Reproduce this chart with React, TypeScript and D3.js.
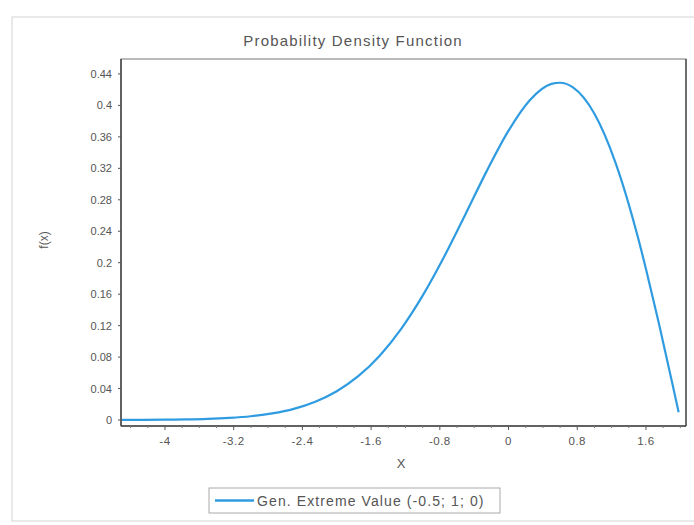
import React from "react";
import * as d3 from "d3";

const chartTitle = "Probability Density Function";
const xAxisTitle = "X";
const yAxisTitle = "f(x)";
const seriesName = "Gen. Extreme Value  (-0.5; 1; 0)";

const xValues = [-4.5, -4.25, -4, -3.75, -3.5, -3.25, -3, -2.75, -2.5, -2.25, -2, -1.75, -1.5, -1.25, -1, -0.75, -0.5, -0.25, 0, 0.25, 0.5, 0.6, 0.75, 1, 1.25, 1.5, 1.6, 1.75, 1.9, 1.98];
const densityValues = [0.0001, 0.0002, 0.0004, 0.0007, 0.0014, 0.0027, 0.0048, 0.0084, 0.0142, 0.0233, 0.0366, 0.0557, 0.0818, 0.1159, 0.1581, 0.2076, 0.262, 0.3174, 0.3679, 0.4069, 0.4274, 0.4288, 0.4229, 0.3894, 0.3258, 0.2349, 0.192, 0.1231, 0.0499, 0.01];

const yTickValues = [0, 0.04, 0.08, 0.12, 0.16, 0.2, 0.24, 0.28, 0.32, 0.36, 0.4, 0.44];
const yTickLabels = ["0", "0.04", "0.08", "0.12", "0.16", "0.2", "0.24", "0.28", "0.32", "0.36", "0.4", "0.44"];
const xMajorTicks = [-4, -3.2, -2.4, -1.6, -0.8, 0, 0.8, 1.6];
const xMajorLabels = ["-4", "-3.2", "-2.4", "-1.6", "-0.8", "0", "0.8", "1.6"];

const W = 694;
const H = 525;
const plot = { left: 121, right: 686, top: 59, bottom: 426 };

export default function App() {
  const x = d3.scaleLinear().domain([-4.512, 2.066]).range([plot.left, plot.right]);
  const y = d3.scaleLinear().domain([-0.0076, 0.459]).range([plot.bottom, plot.top]);

  const pts: [number, number][] = xValues.map((v, i) => [v, densityValues[i]]);
  const line = d3
    .line<[number, number]>()
    .x((d) => x(d[0]))
    .y((d) => y(d[1]))
    .curve(d3.curveMonotoneX);

  const minorTicks = d3.range(-4.4, 2.01, 0.2).filter(
    (t) => !xMajorTicks.some((m) => Math.abs(m - t) < 1e-6)
  );

  const textColor = "#555";
  const font = "Arial, 'Liberation Sans', sans-serif";

  return (
    <svg
      width={W}
      height={H}
      style={{ position: "absolute", left: 0, top: 0, background: "#fff" }}
      fontFamily={font}
    >
      <rect x={0} y={0} width={W} height={H} fill="#fff" />
      <rect x={12} y={17} width={700} height={504} fill="none" stroke="#d4d4d4" strokeWidth={1} />

      <text x={353} y={46} textAnchor="middle" fontSize={15} letterSpacing={1.2} fill={textColor}>
        {chartTitle}
      </text>

      {/* plot frame */}
      <rect
        x={plot.left}
        y={plot.top}
        width={plot.right - plot.left}
        height={plot.bottom - plot.top}
        fill="#fff"
        stroke="#777"
        strokeWidth={1}
      />
      <line x1={plot.right} x2={plot.right} y1={plot.top} y2={plot.bottom} stroke="#555" strokeWidth={1.5} />
      <line x1={plot.left} x2={plot.left} y1={plot.top} y2={plot.bottom} stroke="#444" strokeWidth={1.5} />
      <line x1={plot.left} x2={plot.right} y1={plot.bottom} y2={plot.bottom} stroke="#444" strokeWidth={1.5} />

      {/* y ticks */}
      {yTickValues.map((v, i) => (
        <g key={"y" + i}>
          <line x1={plot.left - 3} x2={plot.left} y1={y(v)} y2={y(v)} stroke="#555" />
          <text x={plot.left - 9} y={y(v) + 4} textAnchor="end" fontSize={11} fill={textColor}>
            {yTickLabels[i]}
          </text>
        </g>
      ))}

      {/* x ticks */}
      {minorTicks.map((v, i) => (
        <line key={"m" + i} x1={x(v)} x2={x(v)} y1={plot.bottom} y2={plot.bottom + 2} stroke="#777" />
      ))}
      {xMajorTicks.map((v, i) => (
        <g key={"x" + i}>
          <line x1={x(v)} x2={x(v)} y1={plot.bottom} y2={plot.bottom + 4} stroke="#555" />
          <text x={x(v)} y={plot.bottom + 19} textAnchor="middle" fontSize={11.5} letterSpacing={0.5} fill={textColor}>
            {xMajorLabels[i]}
          </text>
        </g>
      ))}

      <text x={401} y={468} textAnchor="middle" fontSize={13} fill={textColor}>
        {xAxisTitle}
      </text>
      <text
        transform={`translate(48, 240) rotate(-90)`}
        textAnchor="middle"
        fontSize={12}
        fill={textColor}
      >
        {yAxisTitle}
      </text>

      <path d={line(pts) || ""} fill="none" stroke="#2f9be0" strokeWidth={2.2} />

      {/* legend */}
      <rect x={209} y={488} width={291} height={25} fill="#fff" stroke="#aaa" strokeWidth={1} />
      <line x1={215} x2={254} y1={500.5} y2={500.5} stroke="#2f9be0" strokeWidth={2.5} />
      <text x={257} y={505.5} fontSize={14} letterSpacing={1.1} fill={textColor}>
        {seriesName}
      </text>
    </svg>
  );
}
